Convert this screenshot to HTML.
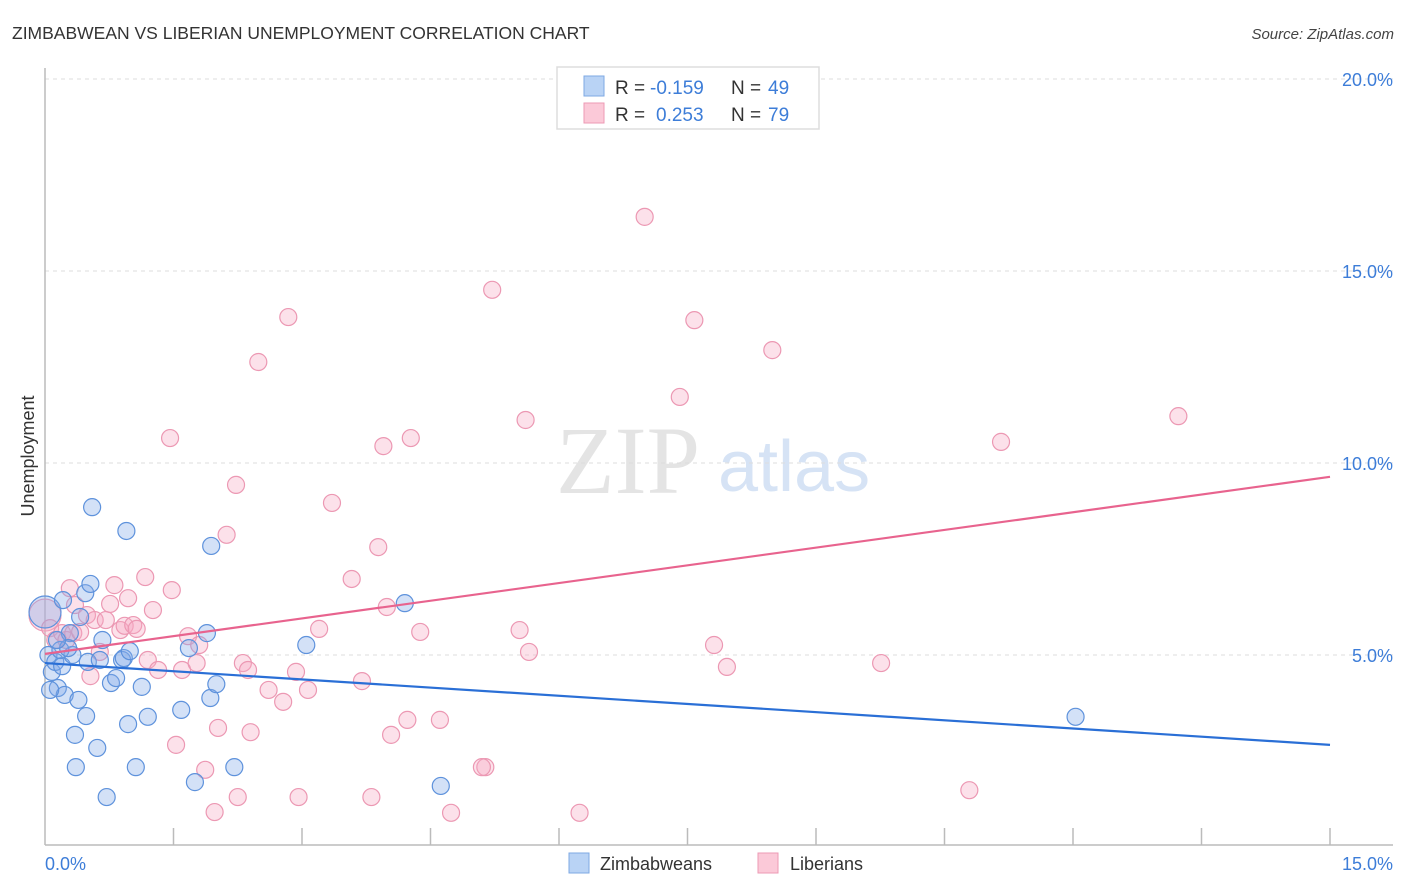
<!DOCTYPE html>
<html><head><meta charset="utf-8"><style>
body{margin:0;background:#fff;font-family:"Liberation Sans",sans-serif;}
svg{display:block}
</style></head><body>
<svg id="chart" width="1406" height="892" xmlns="http://www.w3.org/2000/svg">
<text x="12" y="39" font-size="17.5" fill="#333">ZIMBABWEAN VS LIBERIAN UNEMPLOYMENT CORRELATION CHART</text>
<text x="1394" y="39" font-size="15" font-style="italic" fill="#444" text-anchor="end">Source: ZipAtlas.com</text>
<text x="556" y="493" font-size="96" font-family="Liberation Serif,serif" fill="#e4e4e4">ZIP</text>
<text x="718" y="491" font-size="72" fill="#d6e3f5">atlas</text>
<g id="grid"></g>
<g id="axes"></g>
<g id="marks"></g>
<text transform="translate(34,456) rotate(-90)" font-size="18" fill="#333" text-anchor="middle">Unemployment</text>
<g>
<rect x="557" y="67" width="262" height="62" fill="#fff" stroke="#ddd" stroke-width="1.5"/>
<rect x="584" y="76" width="20" height="20" fill="#b9d3f5" stroke="#7ea8e3"/>
<rect x="584" y="103" width="20" height="20" fill="#fbc9d8" stroke="#ec9ab4"/>
<text x="615" y="94" font-size="19" fill="#333">R = <tspan x="650" fill="#3d7dd8">-0.159</tspan><tspan x="731" fill="#333">N = </tspan><tspan x="768" fill="#3d7dd8">49</tspan></text>
<text x="615" y="121" font-size="19" fill="#333">R = <tspan x="656" fill="#3d7dd8">0.253</tspan><tspan x="731" fill="#333">N = </tspan><tspan x="768" fill="#3d7dd8">79</tspan></text>
</g>
<g>
<rect x="569" y="853" width="20" height="20" fill="#b9d3f5" stroke="#7ea8e3"/>
<text x="600" y="870" font-size="18" fill="#333">Zimbabweans</text>
<rect x="758" y="853" width="20" height="20" fill="#fbc9d8" stroke="#ec9ab4"/>
<text x="790" y="870" font-size="18" fill="#333">Liberians</text>
</g>
</svg>
<script>
const blueX=[0,0.04,0.08,0.12,0.15,0.20,0.23,0.29,0.32,0.35,0.36,0.39,0.41,0.47,0.48,0.50,0.53,0.55,0.61,0.67,0.72,0.77,0.83,0.90,0.92,0.95,0.97,0.99,1.06,1.13,1.20,1.59,1.68,1.75,1.89,1.93,1.94,2.00,2.21,3.05,4.20,4.62,12.03,0.18,0.27,0.64,0.06,0.14,0.21];
const blueY=[6.12,5.00,4.56,4.82,4.14,4.71,3.96,5.57,5.00,2.92,2.08,3.83,5.99,6.61,3.41,4.82,6.85,8.85,2.58,5.39,1.30,4.27,4.40,4.87,4.92,8.23,3.20,5.10,2.08,4.17,3.39,3.57,5.18,1.69,5.57,3.88,7.84,4.24,2.08,5.26,6.35,1.59,3.39,5.13,5.18,4.87,4.09,5.39,6.43];
const pinkX=[0,0.06,0.12,0.20,0.25,0.29,0.33,0.35,0.41,0.49,0.53,0.58,0.64,0.71,0.76,0.81,0.88,0.93,0.97,1.03,1.07,1.17,1.20,1.26,1.32,1.46,1.48,1.53,1.60,1.67,1.77,1.80,1.87,1.98,2.02,2.12,2.23,2.25,2.31,2.37,2.40,2.49,2.61,2.78,2.84,2.93,2.96,3.07,3.20,3.35,3.58,3.70,3.81,3.95,3.89,3.99,4.04,4.23,4.27,4.38,4.61,4.74,5.14,5.22,5.54,5.61,5.65,6.24,7.00,7.41,7.58,7.81,7.96,8.49,9.76,10.79,11.16,13.23,5.10];
const pinkY=[6.04,5.70,5.39,5.57,5.39,6.74,5.57,6.30,5.60,6.04,4.45,5.91,5.08,5.91,6.33,6.82,5.65,5.76,6.48,5.78,5.68,7.03,4.87,6.17,4.61,10.65,6.69,2.66,4.61,5.49,4.79,5.26,2.01,0.91,3.10,8.13,9.43,1.30,4.79,4.61,2.99,12.63,4.09,3.78,13.80,4.56,1.30,4.09,5.68,8.96,6.98,4.32,1.30,10.44,7.81,6.25,2.92,3.31,10.65,5.60,3.31,0.89,2.08,14.51,5.65,11.12,5.08,0.89,16.41,11.72,13.72,5.26,4.69,12.94,4.79,1.48,10.55,11.22,2.08];
const blueTrend=[4.79,2.66];
const pinkTrend=[5.03,9.64];
const yTicks=[5,10,15,20];
const yTickLabels=["5.0%","10.0%","15.0%","20.0%"];
const xTicks=[1.5,3,4.5,6,7.5,9,10.5,12,13.5,15];
const xEndLabels=["0.0%","15.0%"];
const X0=45,X1=1330,Y0=847,PXY=38.4;
const sx=v=>X0+(X1-X0)*v/15;
const sy=v=>Y0-v*PXY;
const NS="http://www.w3.org/2000/svg";
function mk(tag,parent,attrs){const e=document.createElementNS(NS,tag);for(const k in attrs)e.setAttribute(k,attrs[k]);parent.appendChild(e);return e;}
const grid=document.getElementById('grid'),axes=document.getElementById('axes'),marks=document.getElementById('marks');
yTicks.forEach((t,i)=>{
 const l=mk('line',grid,{x1:45,x2:1393,y1:sy(t),y2:sy(t),stroke:'#ddd','stroke-dasharray':'4,4'});
 
 
 const tx=mk('text',axes,{x:1393,y:sy(t)+7,'font-size':18,fill:'#3d7dd8','text-anchor':'end'});
 tx.textContent=yTickLabels[i];
 
 
});
const ax=mk('line',axes,{x1:45,x2:45,y1:68,y2:845,stroke:'#bbb','stroke-width':1.5});


const bx=mk('line',axes,{x1:45,x2:1393,y1:845,y2:845,stroke:'#bbb','stroke-width':1.5});


xTicks.forEach(t=>{
 const l=mk('line',axes,{x1:sx(t),x2:sx(t),y1:828,y2:845,stroke:'#bbb','stroke-width':1.5});
 
 
});
const xl0=mk('text',axes,{x:45,y:870,'font-size':18,fill:'#3d7dd8'});
xl0.textContent=xEndLabels[0];


const xl1=mk('text',axes,{x:1393,y:870,'font-size':18,fill:'#3d7dd8','text-anchor':'end'});
xl1.textContent=xEndLabels[1];


function pts(xs,ys,fill,stroke,name){
 xs.forEach((x,i)=>{
  const r=(x===0&&i===0)?16:8.5;
  const c=mk('circle',marks,{cx:sx(x),cy:sy(ys[i]),r:r,fill:fill,stroke:stroke,'stroke-width':1.2});
  
  
 });
}
pts(pinkX,pinkY,'rgba(246,168,194,0.35)','#ec98b3','liberian-point');
pts(blueX,blueY,'rgba(128,170,232,0.35)','#5e92dc','zimbabwean-point');
const bl=mk('line',marks,{x1:sx(0),y1:sy(blueTrend[0]),x2:sx(15),y2:sy(blueTrend[1]),stroke:'#2a6fd6','stroke-width':2.2});


const pl=mk('line',marks,{x1:sx(0),y1:sy(pinkTrend[0]),x2:sx(15),y2:sy(pinkTrend[1]),stroke:'#e8638e','stroke-width':2.2});


</script>
</body></html>
